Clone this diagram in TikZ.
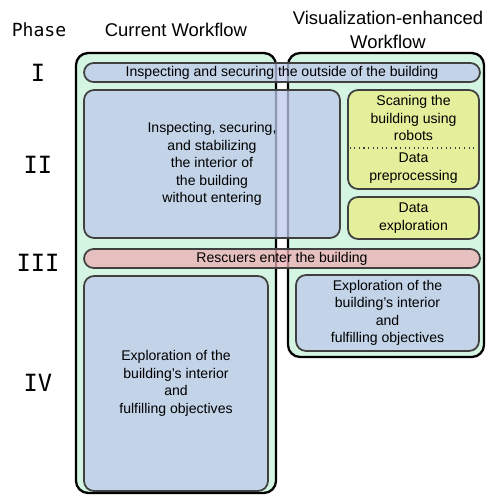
\documentclass[tikz,border=0pt]{standalone}
\usepackage{fontspec}
\setmainfont{Liberation Sans}
\newfontfamily\phasefont{DejaVu Sans Mono}
\usetikzlibrary{positioning}

\definecolor{flowgreen}{HTML}{D5F5E3}
\definecolor{stepblue}{HTML}{BEC8EB}
\definecolor{stepyellow}{HTML}{EAEE83}
\definecolor{steppink}{HTML}{ECAFB4}
\definecolor{boxgray}{HTML}{404040}

\tikzset{
  flowbox/.style={draw=black, line width=1.3pt, fill=flowgreen, rounded corners=0.24cm, inner sep=0pt},
  stepbox/.style={draw=boxgray, line width=1pt, rounded corners=0.2cm, fill opacity=0.75,
    text opacity=1, align=center, inner sep=0pt, font=\fontsize{8}{10}\selectfont},
  phasebar/.style={stepbox, rounded corners=0.19cm, minimum width=7.92cm, minimum height=0.38cm},
  phaselabel/.style={font=\phasefont\fontsize{13.5}{16}\selectfont},
  headlabel/.style={align=center, font=\fontsize{10.5}{13.6}\selectfont}
}

\begin{document}
\begin{tikzpicture}[x=0.02cm, y=-0.02cm]
  \useasboundingbox (0,0) rectangle (485,495);

  % headings
  \node[font=\phasefont\fontsize{10.3}{12}\selectfont] (phase) at (39,30) {Phase};
  \node[headlabel] (current) at (176,30) {Current Workflow};
  \node[headlabel] (visual) at (388,30) {Visualization-enhanced\\Workflow};

  % phase numbers
  \node[phaselabel] (p1) at (38,73) {I};
  \node[phaselabel] (p2) at (38,165) {II};
  \node[phaselabel] (p3) at (38,263) {III};
  \node[phaselabel] (p4) at (38,383) {IV};

  % workflow columns
  \node[flowbox, minimum width=4cm, minimum height=8.8cm] (curflow) at (176,273) {};
  \node[flowbox, minimum width=3.92cm, minimum height=6.08cm] (visflow) at (386,205) {};

  % phase I
  \node[phasebar, fill=stepblue] (outside) at (282,72.5)
    {Inspecting and securing the outside of the building};

  % phase II
  \node[stepbox, fill=stepblue, minimum width=5.12cm, minimum height=2.96cm] (interior) at (212,164)
    {Inspecting, securing,\\and stabilizing\\the interior of\\the building\\without entering};
  \node[stepbox, fill=stepyellow, minimum width=2.62cm, minimum height=1.98cm] (scan) at (413.5,139.5) {};
  \node (scantext) at (413.5,118) [align=center, font=\fontsize{8}{10}\selectfont]
    {Scaning the\\building using\\robots};
  \node (pretext) at (413.5,168) [align=center, font=\fontsize{8}{10}\selectfont]
    {Data\\preprocessing};
  \draw[boxgray, dotted, line width=0.6pt, shorten <=1.5pt, shorten >=1.5pt]
    ([yshift=-0.17cm]scan.west) -- ([yshift=-0.17cm]scan.east);
  \node[stepbox, fill=stepyellow, minimum width=2.62cm, minimum height=0.84cm] (explore) at (413.5,218)
    {Data\\exploration};

  % phase III
  \node[phasebar, fill=steppink] (enter) at (282,258.5) {Rescuers enter the building};

  % phase IV
  \node[stepbox, fill=stepblue, minimum width=3.68cm, minimum height=4.3cm] (curgoal) at (176,383.5)
    {Exploration of the\\building's interior\\and\\fulfilling objectives};
  \node[stepbox, fill=stepblue, minimum width=3.66cm, minimum height=1.52cm] (visgoal) at (387.5,313)
    {Exploration of the\\building's interior\\and\\fulfilling objectives};
\end{tikzpicture}
\end{document}
